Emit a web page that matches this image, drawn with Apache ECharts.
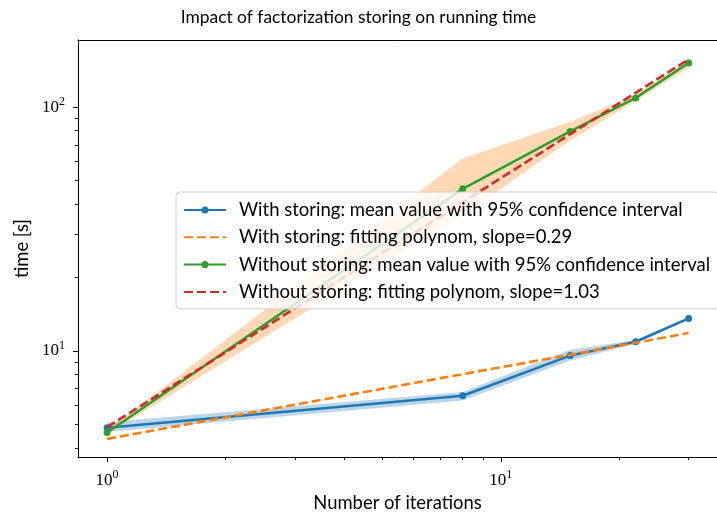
<!DOCTYPE html>
<html>
<head>
<meta charset="utf-8">
<script src="https://cdn.jsdelivr.net/npm/echarts@6/dist/echarts.min.js"></script>
<style>html,body{margin:0;padding:0;background:#fff}#chart{width:717px;height:517px}</style>
</head>
<body>
<div id="chart"></div>
<script>
// ---- data ----
const iterations = [1, 8, 15, 22, 30];
const withMean = [4.84, 6.55, 9.57, 10.9, 13.6];
const withLow = [4.65, 6.27, 9.13, 10.7, 13.5];
const withHigh = [5.1, 6.78, 10.12, 11.1, 13.7];
const withFit = [4.36, 8.03, 9.65, 10.8, 11.85];
const withoutMean = [4.63, 46.2, 79.5, 109, 151.7];
const withoutLow = [4.55, 36, 73, 106, 145];
const withoutHigh = [4.72, 61.5, 87, 112, 156];
const withoutFit = [4.87, 40.7, 77.4, 114.4, 157];

const seriesNames = [
  'With storing: mean value with 95% confidence interval',
  'With storing: fitting polynom, slope=0.29',
  'Without storing: mean value with 95% confidence interval',
  'Without storing: fitting polynom, slope=1.03'
];
const titleText = 'Impact of factorization storing on running time';
const xName = 'Number of iterations';
const yName = 'time [s]';

// axis ranges and ticks (log scale)
const xRange = [0.8435, 35.4];
const yRange = [3.67, 188.4];
const xMajorTicks = [1, 10];
const xMinorTicks = [2, 3, 4, 5, 6, 7, 8, 9, 20, 30];
const yMajorTicks = [10, 100];
const yMinorTicks = [4, 5, 6, 7, 8, 9, 20, 30, 40, 50, 60, 70, 80, 90];

// ---- helpers ----
const L = Math.log10;
const pairs = (xs, ys) => xs.map((x, i) => [L(x), L(ys[i])]);
const bandData = (xs, lo, hi) => xs.map((x, i) => [L(x), L(lo[i]), L(hi[i])]);
const C0 = '#1f77b4', C1 = '#ff7f0e', C2 = '#2ca02c', C3 = '#d62728';
const TXT = 'Lato';
const SERIF = 'Liberation Serif';

function powLabel(v) {
  const e = Math.round(v);
  return '{b|10}{s|' + e + '}';
}
const powRich = {
  b: { fontFamily: SERIF, fontSize: 17, color: '#000' },
  s: { fontFamily: SERIF, fontSize: 12, color: '#000', padding: [0, 0, 11, 0] }
};

function bandSeries(data, color, z) {
  return {
    type: 'custom',
    silent: true,
    z: z,
    clip: true,
    data: data,
    encode: { x: 0, y: [1, 2] },
    renderItem: function (params, api) {
      if (params.dataIndex !== 0) return;
      const pts = [];
      for (let i = 0; i < data.length; i++) pts.push(api.coord([data[i][0], data[i][2]]));
      for (let i = data.length - 1; i >= 0; i--) pts.push(api.coord([data[i][0], data[i][1]]));
      return { type: 'polygon', shape: { points: pts }, style: { fill: color } };
    }
  };
}

const gridW = 649, gridH = 418.5;
const majorTick = { show: true, length: 5, lineStyle: { color: '#000', width: 1 } };
const minorTick = { show: true, length: 3, lineStyle: { color: '#000', width: 0.9 } };

const option = {
  animation: false,
  backgroundColor: '#fff',
  title: {
    text: titleText,
    left: 'center',
    top: 9,
    padding: 0,
    textStyle: { fontFamily: TXT, fontSize: 17.4, fontWeight: 'normal', color: '#000' }
  },
  grid: { left: 78, top: 40, width: gridW, height: gridH, containLabel: false },
  legend: {
    orient: 'vertical',
    left: 176,
    top: 192,
    z: 20,
    selectedMode: false,
    data: [
      { name: seriesNames[0] },
      { name: seriesNames[1], itemStyle: { opacity: 0 } },
      { name: seriesNames[2] },
      { name: seriesNames[3], itemStyle: { opacity: 0 } }
    ],
    itemWidth: 42,
    itemHeight: 9,
    itemGap: 7.3,
    padding: [8, 8, 7, 7],
    backgroundColor: 'rgba(255,255,255,0.8)',
    borderColor: '#cccccc',
    borderWidth: 1,
    borderRadius: 4,
    textStyle: { fontFamily: TXT, fontSize: 18.5, color: '#000', lineHeight: 20, padding: [0, 0, 0, 8] }
  },
  xAxis: [
    {
      type: 'value', min: L(xRange[0]), max: L(xRange[1]), position: 'bottom',
      name: xName, nameLocation: 'middle', nameGap: 33,
      nameTextStyle: { fontFamily: TXT, fontSize: 18.4, color: '#000' },
      axisLine: { show: true, onZero: false, lineStyle: { color: '#000', width: 1 } },
      splitLine: { show: false },
      axisTick: Object.assign({ customValues: xMajorTicks.map(L) }, majorTick),
      axisLabel: { customValues: xMajorTicks.map(L), formatter: powLabel, rich: powRich, margin: 12 }
    },
    {
      type: 'value', min: L(xRange[0]), max: L(xRange[1]), position: 'bottom',
      axisLine: { show: false, onZero: false }, splitLine: { show: false },
      axisTick: Object.assign({ customValues: xMinorTicks.map(L) }, minorTick),
      axisLabel: { show: false, customValues: xMinorTicks.map(L) }
    },
    {
      type: 'value', min: L(xRange[0]), max: L(xRange[1]), position: 'top',
      axisLine: { show: true, onZero: false, lineStyle: { color: '#000', width: 1 } },
      axisTick: { show: false }, axisLabel: { show: false }, splitLine: { show: false }
    }
  ],
  yAxis: [
    {
      type: 'value', min: L(yRange[0]), max: L(yRange[1]), position: 'left',
      name: yName, nameLocation: 'middle', nameGap: 46, nameRotate: 90,
      nameTextStyle: { fontFamily: TXT, fontSize: 18.4, color: '#000' },
      axisLine: { show: true, onZero: false, lineStyle: { color: '#000', width: 1 } },
      splitLine: { show: false },
      axisTick: Object.assign({ customValues: yMajorTicks.map(L) }, majorTick),
      axisLabel: { customValues: yMajorTicks.map(L), formatter: powLabel, rich: powRich, margin: 13 }
    },
    {
      type: 'value', min: L(yRange[0]), max: L(yRange[1]), position: 'left',
      axisLine: { show: false, onZero: false }, splitLine: { show: false },
      axisTick: Object.assign({ customValues: yMinorTicks.map(L) }, minorTick),
      axisLabel: { show: false, customValues: yMinorTicks.map(L) }
    },
    {
      type: 'value', min: L(yRange[0]), max: L(yRange[1]), position: 'right',
      axisLine: { show: true, onZero: false, lineStyle: { color: '#000', width: 1 } },
      axisTick: { show: false }, axisLabel: { show: false }, splitLine: { show: false }
    }
  ],
  series: [
    bandSeries(bandData(iterations, withLow, withHigh), 'rgba(31,119,180,0.3)', 1),
    {
      name: seriesNames[0], type: 'line', z: 2, data: pairs(iterations, withMean),
      symbol: 'circle', symbolSize: 7, color: C0,
      lineStyle: { color: C0, width: 2.6 }, itemStyle: { color: C0 }
    },
    {
      name: seriesNames[1], type: 'line', z: 3, data: pairs(iterations, withFit),
      symbol: 'none', color: C1,
      lineStyle: { color: C1, width: 2.6, type: [9, 4] }
    },
    bandSeries(bandData(iterations, withoutLow, withoutHigh), 'rgba(255,127,14,0.3)', 4),
    {
      name: seriesNames[2], type: 'line', z: 5, data: pairs(iterations, withoutMean),
      symbol: 'circle', symbolSize: 7, color: C2,
      lineStyle: { color: C2, width: 2.6 }, itemStyle: { color: C2 }
    },
    {
      name: seriesNames[3], type: 'line', z: 6, data: pairs(iterations, withoutFit),
      symbol: 'none', color: C3,
      lineStyle: { color: C3, width: 2.6, type: [9, 4] }
    }
  ]
};

const chart = echarts.init(document.getElementById('chart'), null, { renderer: 'canvas' });
chart.setOption(option);
</script>
</body>
</html>
